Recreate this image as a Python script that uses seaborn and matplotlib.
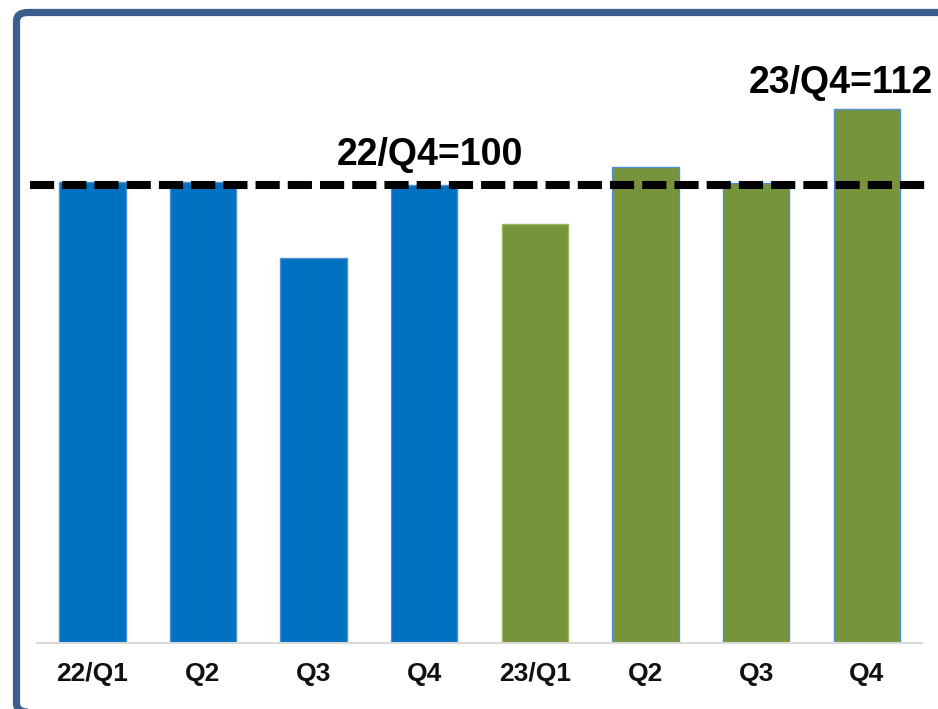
# Quarterly index chart, 22/Q4 = 100

import numpy as np
import pandas as pd
import matplotlib
matplotlib.use("Agg")
import matplotlib.pyplot as plt
from matplotlib.patches import FancyBboxPatch
import seaborn as sns

# 1. Data ------------------------------------------------------------------

quarter_keys = ["22/Q1", "22/Q2", "22/Q3", "22/Q4", "23/Q1", "23/Q2", "23/Q3", "23/Q4"]
tick_labels = ["22/Q1", "Q2", "Q3", "Q4", "23/Q1", "Q2", "Q3", "Q4"]
index_values = [100.7, 100.7, 84.1, 100.0, 91.5, 103.9, 100.5, 116.5]
year_group = ["2022", "2022", "2022", "2022", "2023", "2023", "2023", "2023"]
base_value = 100
base_label = "22/Q4=100"
last_label = "23/Q4=112"

df = pd.DataFrame({"quarter": quarter_keys, "value": index_values, "year": year_group})

# 2. Plot ------------------------------------------------------------------

sns.set_style("white")
plt.rcParams["font.family"] = ["Liberation Sans", "DejaVu Sans"]

fig = plt.figure(figsize=(9.38, 7.09), dpi=100)
ax = fig.add_axes([37 / 938, 66 / 709, 885 / 938, 623 / 709])

sns.barplot(data=df, x="quarter", y="value", hue="year",
            palette={"2022": "#0070C0", "2023": "#77933C"}, saturation=1,
            dodge=False, width=0.6, legend=False, ax=ax)

for patch, key in zip(ax.patches, quarter_keys):
    patch.set_edgecolor("#4f8fd6" if key != "23/Q1" else "#9bbb59")
    patch.set_linewidth(1)

ax.set_ylim(0, 136)
ax.set_xlim(-0.5, 7.5)

# dashed reference line
ax.axhline(base_value, xmin=-0.008, xmax=1.009, color="black", lw=5.8,
           ls=(0, (3, 1)), clip_on=False, zorder=5)

ax.text(3.05, 104.4, base_label, ha="center", va="baseline",
        fontsize=27, fontweight="bold", color="black")
ax.text(6.77, 120.1, last_label, ha="center", va="baseline",
        fontsize=27, fontweight="bold", color="black")

ax.set_xticks(range(len(tick_labels)))
ax.set_xticklabels(tick_labels, fontsize=19, fontweight="bold", color="#111111")
ax.tick_params(axis="x", length=0, pad=14)
ax.set_yticks([])
ax.set_xlabel("")
ax.set_ylabel("")

for side in ["top", "left", "right"]:
    ax.spines[side].set_visible(False)
ax.spines["bottom"].set_color("#d9d9d9")
ax.spines["bottom"].set_linewidth(1.5)

# outer frame (runs off the right and bottom edges)
frame = FancyBboxPatch((16.5 / 938, -3 / 709), 960 / 938, (709 - 12.5 + 3) / 709,
                       boxstyle="round,pad=0,rounding_size=0.012",
                       transform=fig.transFigure, fill=False,
                       edgecolor="#3b5e8c", linewidth=5.2, clip_on=False)
fig.patches.append(frame)

fig.savefig("out.png", dpi=100)
